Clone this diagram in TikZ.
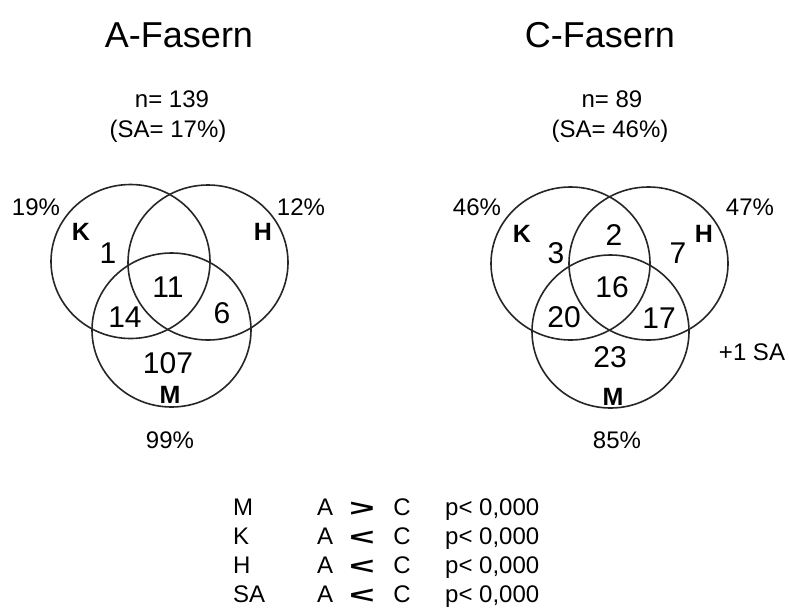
\documentclass[tikz,border=0pt]{standalone}
\usepackage{fontspec}
\setmainfont{Liberation Sans}
\begin{document}
\begin{tikzpicture}[x=1pt,y=-1pt,
  venn/.style={draw=black!85,line width=1.6pt},
  ttl/.style={anchor=base,inner sep=0pt,font=\fontsize{36}{40}\selectfont},
  info/.style={anchor=base,inner sep=0pt,font=\fontsize{24}{28}\selectfont},
  pct/.style={anchor=base,inner sep=0pt,font=\fontsize{24}{27}\selectfont},
  setlbl/.style={anchor=base,inner sep=0pt,font=\fontsize{25}{28}\selectfont\bfseries},
  num/.style={anchor=base,inner sep=0pt,font=\fontsize{30}{34}\selectfont},
  tab/.style={anchor=base,inner sep=0pt,font=\fontsize{24}{28}\selectfont},
  tabl/.style={anchor=base west,inner sep=0pt,font=\fontsize{24}{28}\selectfont},
  rel/.style={anchor=base,inner sep=0pt,font=\fontsize{24}{28}\selectfont\bfseries}]
\useasboundingbox[fill=white] (0,0) rectangle (789,608);
\newcommand{\relgt}{\raisebox{-1pt}{\scalebox{1.8}[1.0]{>}}}
\newcommand{\rellt}{\raisebox{-1pt}{\scalebox{1.8}[1.0]{<}}}

% ---- A-Fasern ----
\node[ttl] (tA) at (179,47) {A-Fasern};
\node[info] (nA) at (172,107) {n= 139};
\node[info] (sA) at (168,137) {(SA= 17\%)};
\draw[venn] (130.5,261.5) ellipse [x radius=79.5pt, y radius=77pt];
\draw[venn] (208,262.5) ellipse [x radius=80pt, y radius=77.5pt];
\draw[venn] (171.5,330) ellipse [x radius=79.5pt, y radius=77pt];
\node[pct] (pKA) at (36,215) {19\%};
\node[pct] (pHA) at (301,215) {12\%};
\node[pct] (pMA) at (170,448) {99\%};
\node[setlbl] (KA) at (81,240) {K};
\node[setlbl] (HA) at (263,240) {H};
\node[setlbl] (MA) at (170,403) {M};
\node[num] (a1) at (108,263) {1};
\node[num] (a11) at (168,297) {11};
\node[num] (a14) at (125,327) {14};
\node[num] (a6) at (222,323) {6};
\node[num] (a107) at (168,373) {107};

% ---- C-Fasern ----
\node[ttl] (tC) at (600,47) {C-Fasern};
\node[info] (nC) at (612,107) {n= 89};
\node[info] (sC) at (610,137) {(SA= 46\%)};
\draw[venn] (570.5,263.5) ellipse [x radius=79.5pt, y radius=76.5pt];
\draw[venn] (648.5,263.5) ellipse [x radius=79.5pt, y radius=76.5pt];
\draw[venn] (610.5,331.5) ellipse [x radius=78.5pt, y radius=76.5pt];
\node[pct] (pKC) at (477,215) {46\%};
\node[pct] (pHC) at (750,215) {47\%};
\node[pct] (pMC) at (617,448) {85\%};
\node[pct] (saC) at (752,360) {+1 SA};
\node[setlbl] (KC) at (522,242) {K};
\node[setlbl] (HC) at (704,242) {H};
\node[setlbl] (MC) at (613,405) {M};
\node[num] (c3) at (556,263) {3};
\node[num] (c2) at (614,245) {2};
\node[num] (c7) at (678,263) {7};
\node[num] (c16) at (612,297) {16};
\node[num] (c20) at (564,327) {20};
\node[num] (c17) at (659,328) {17};
\node[num] (c23) at (610,367) {23};

% ---- table ----
\foreach \lbl/\r/\yy [count=\i] in {M/\relgt/515, K/\rellt/544, H/\rellt/573, SA/\rellt/602}{
  \node[tabl] (tl\i) at (233,\yy) {\lbl};
  \node[tab] (ta\i) at (325,\yy) {A};
  \node[rel] (tr\i) at (362,\yy) {\r};
  \node[tab] (tc\i) at (402,\yy) {C};
  \node[tabl] (tp\i) at (445,\yy) {p< 0,000};
}
\end{tikzpicture}
\end{document}
